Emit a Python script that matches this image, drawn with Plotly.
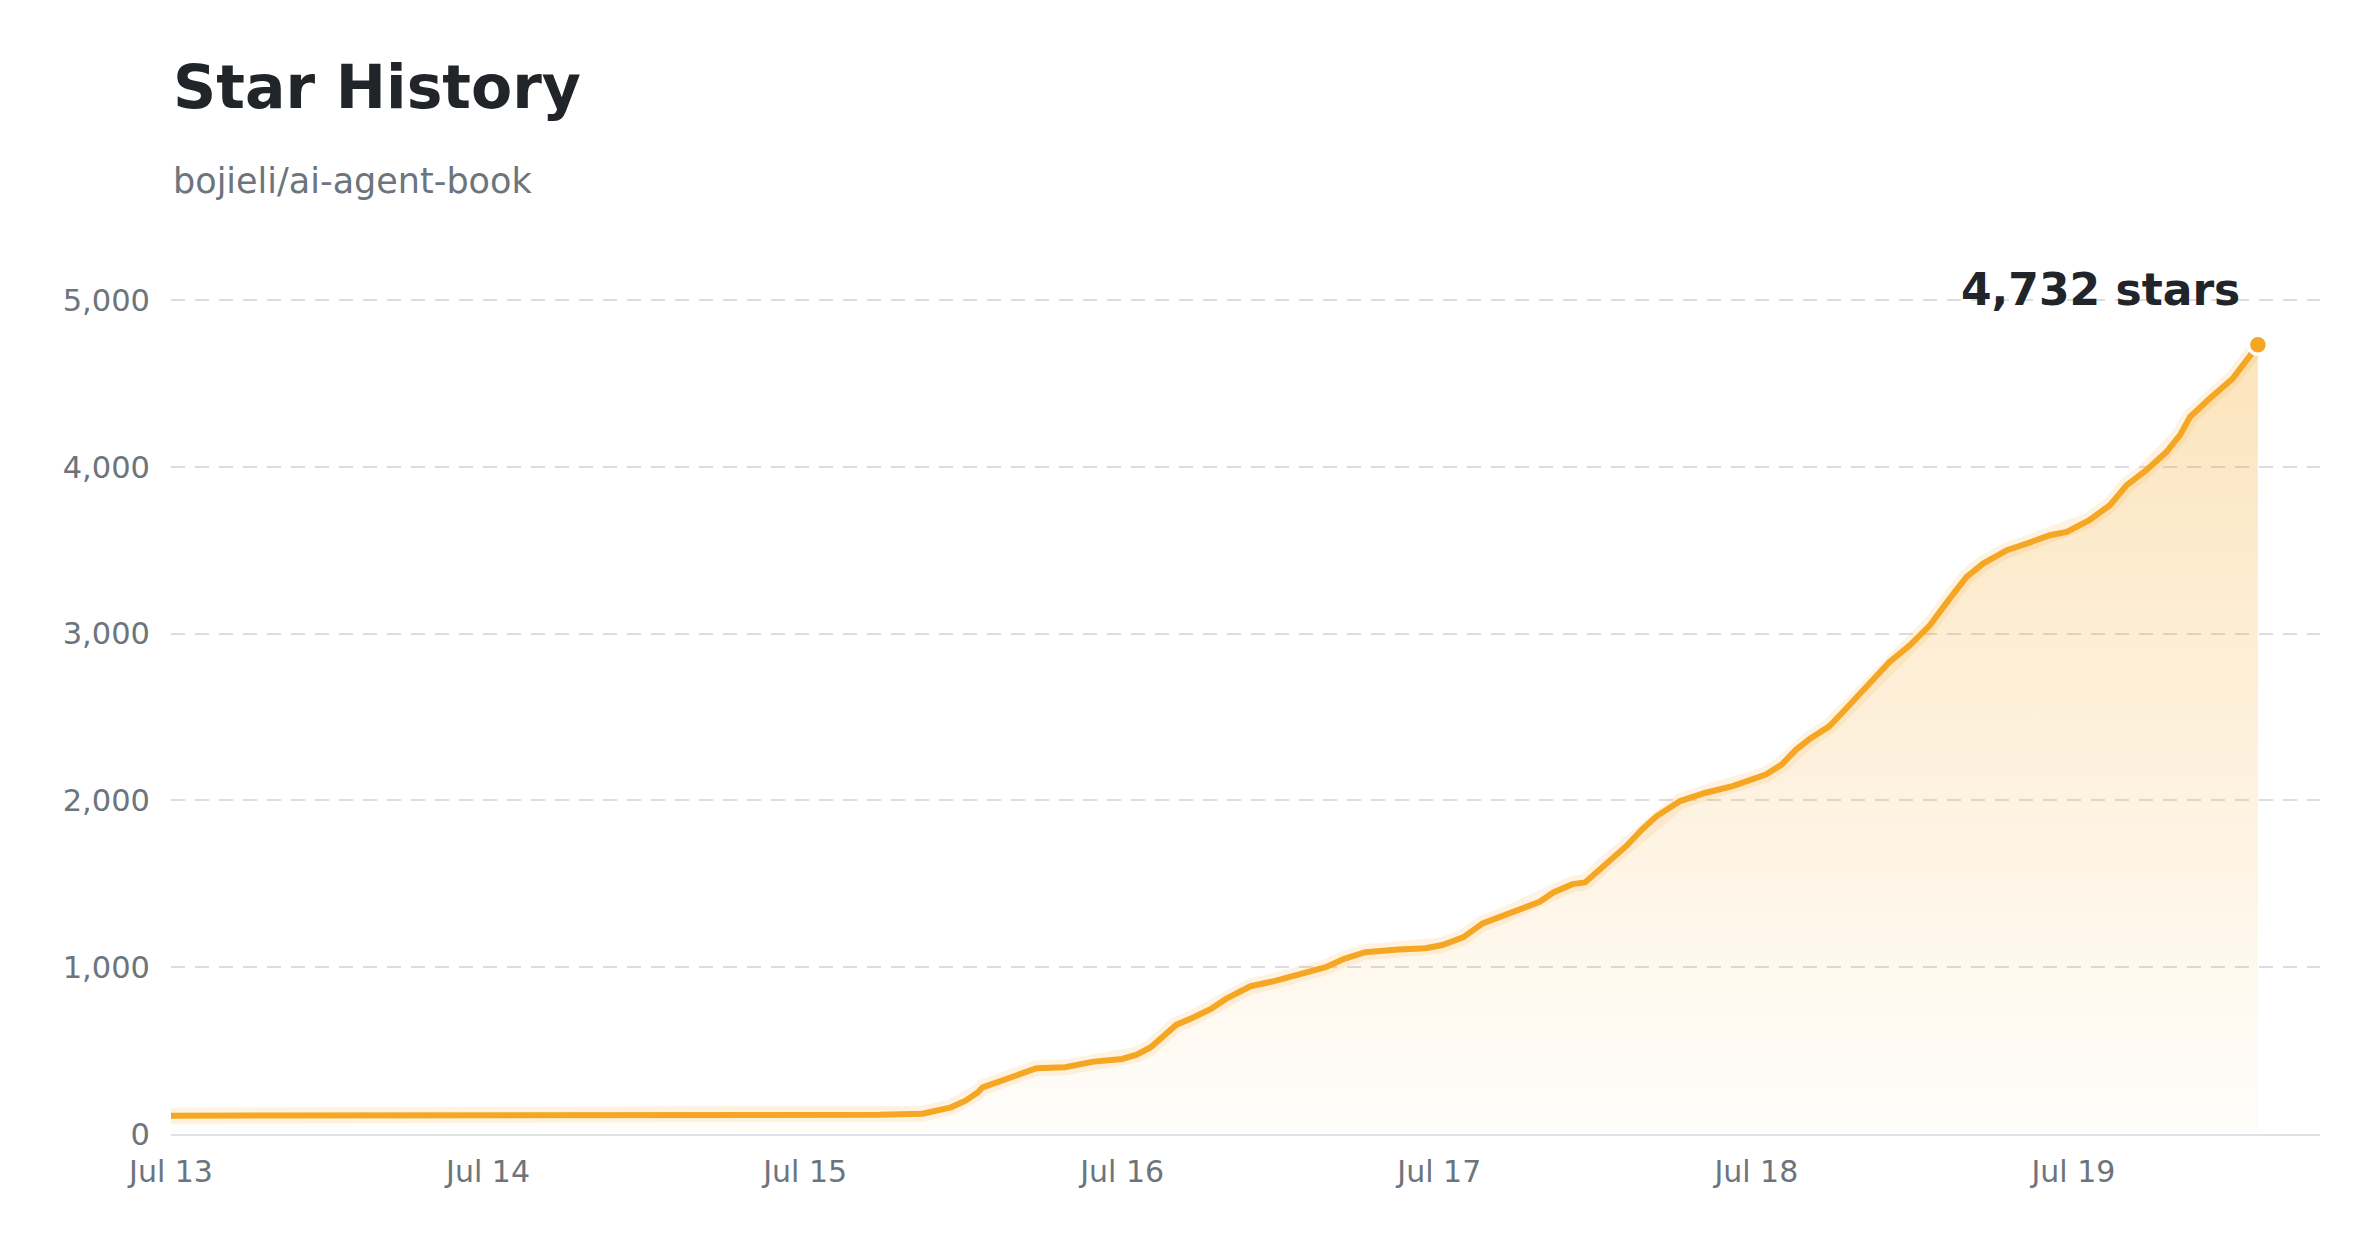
import plotly.graph_objects as go

# ---- data ----
dates = [
    "2025-07-13 00:00", "2025-07-13 12:00", "2025-07-14 00:00", "2025-07-14 12:00",
    "2025-07-15 00:00", "2025-07-15 05:38", "2025-07-15 08:53", "2025-07-15 11:02",
    "2025-07-15 12:09", "2025-07-15 13:05", "2025-07-15 13:26", "2025-07-15 14:48",
    "2025-07-15 16:28", "2025-07-15 17:31", "2025-07-15 19:41", "2025-07-15 21:50",
    "2025-07-16 00:00", "2025-07-16 01:06", "2025-07-16 02:10", "2025-07-16 03:17",
    "2025-07-16 04:05", "2025-07-16 05:25", "2025-07-16 06:43", "2025-07-16 07:51",
    "2025-07-16 09:43", "2025-07-16 11:22", "2025-07-16 12:43", "2025-07-16 14:05",
    "2025-07-16 15:24", "2025-07-16 16:48", "2025-07-16 18:24", "2025-07-16 20:53",
    "2025-07-16 22:58", "2025-07-17 00:14", "2025-07-17 01:48", "2025-07-17 03:17",
    "2025-07-17 04:34", "2025-07-17 05:53", "2025-07-17 07:36", "2025-07-17 08:38",
    "2025-07-17 10:05", "2025-07-17 11:02", "2025-07-17 12:43", "2025-07-17 14:10",
    "2025-07-17 15:22", "2025-07-17 16:28", "2025-07-17 18:14", "2025-07-17 20:10",
    "2025-07-17 22:12", "2025-07-17 23:46", "2025-07-18 00:43", "2025-07-18 01:55",
    "2025-07-18 03:01", "2025-07-18 04:02", "2025-07-18 05:31", "2025-07-18 06:29",
    "2025-07-18 07:34", "2025-07-18 08:38", "2025-07-18 10:05", "2025-07-18 11:37",
    "2025-07-18 13:08", "2025-07-18 14:38", "2025-07-18 15:55", "2025-07-18 17:10",
    "2025-07-18 18:58", "2025-07-18 20:41", "2025-07-18 22:13", "2025-07-18 23:30",
    "2025-07-19 01:12", "2025-07-19 02:46", "2025-07-19 04:02", "2025-07-19 05:31",
    "2025-07-19 07:03", "2025-07-19 08:04", "2025-07-19 08:50", "2025-07-19 10:19",
    "2025-07-19 12:04", "2025-07-19 13:22", "2025-07-19 13:58",
]
stars = [
    110, 110, 110, 110,
    111, 115, 122, 160,
    200, 250, 280, 320,
    370, 394, 400, 434,
    450, 476, 520, 600,
    654, 700, 750, 810,
    886, 914, 940, 974,
    1000, 1050, 1090, 1106,
    1114, 1133, 1179, 1263,
    1299, 1339, 1392, 1448,
    1498, 1508, 1631, 1727,
    1827, 1906, 1996, 2046,
    2086, 2125, 2155, 2215,
    2305, 2368, 2444, 2524,
    2614, 2713, 2830, 2930,
    3050, 3210, 3340, 3420,
    3500, 3546, 3590, 3610,
    3680, 3770, 3890, 3980,
    4090, 4190, 4300, 4410,
    4530, 4666, 4732,
]
title_text = "Star History"
subtitle_text = "bojieli/ai-agent-book"
x_range = ["2025-07-13 00:00", "2025-07-19 18:40"]
y_range = [0, 5300]
y_ticks = [0, 1000, 2000, 3000, 4000, 5000]
x_ticks = ["2025-07-13", "2025-07-14", "2025-07-15", "2025-07-16",
           "2025-07-17", "2025-07-18", "2025-07-19"]

ORANGE = "#F5A623"
FONT = "DejaVu Sans"

fig = go.Figure()

# gradient fill
fig.add_trace(go.Scatter(
    x=dates, y=stars, mode="lines", fill="tozeroy",
    line=dict(width=0, color="rgba(245,166,35,0)"),
    fillgradient=dict(type="vertical",
                      colorscale=[[0, "rgba(245,166,35,0.02)"],
                                  [1, "rgba(245,166,35,0.30)"]]),
    hoverinfo="skip", showlegend=False,
))
# halo
fig.add_trace(go.Scatter(
    x=dates, y=stars, mode="lines",
    line=dict(width=16, color="rgba(245,166,35,0.13)"),
    hoverinfo="skip", showlegend=False,
))
# main line
fig.add_trace(go.Scatter(
    x=dates, y=stars, mode="lines",
    line=dict(width=6, color=ORANGE),
    showlegend=False,
))
# end marker
fig.add_trace(go.Scatter(
    x=[dates[-1]], y=[stars[-1]], mode="markers",
    marker=dict(size=19, color=ORANGE, line=dict(width=3.5, color="white")),
    showlegend=False, cliponaxis=False,
))

fig.add_annotation(
    x=dates[-1], y=stars[-1], xref="x", yref="y",
    text=f"<b>{stars[-1]:,} stars</b>", showarrow=False,
    xanchor="right", yanchor="middle", xshift=-16, yshift=55,
    font=dict(family=FONT, size=44, color="#212529"),
)
fig.add_annotation(
    x=0, y=1.184, xref="paper", yref="paper", text=f"<b>{title_text}</b>",
    showarrow=False, xanchor="left", yanchor="middle",
    font=dict(family=FONT, size=60, color="#212529"),
)
fig.add_annotation(
    x=0, y=1.078, xref="paper", yref="paper", text=subtitle_text,
    showarrow=False, xanchor="left", yanchor="middle",
    font=dict(family=FONT, size=35, color="#6c757d"),
)

fig.update_layout(
    width=2380, height=1249,
    margin=dict(l=171, r=60, t=250, b=115),
    paper_bgcolor="white", plot_bgcolor="white",
    showlegend=False,
    font=dict(family=FONT, color="#6c757d"),
)
fig.update_xaxes(
    type="date", range=x_range,
    tickvals=x_ticks, tickformat="%b %d",
    showgrid=False, zeroline=False,
    showline=True, linecolor="#dee2e6", linewidth=2,
    ticks="", ticklabelstandoff=10,
    tickfont=dict(family=FONT, size=30, color="#6c757d"),
)
fig.update_yaxes(
    range=y_range, tickvals=y_ticks, tickformat=",",
    showgrid=True, gridcolor="#dadde2", gridwidth=2, griddash="14px,10px",
    zeroline=False, showline=False, ticks="", ticklabelstandoff=20,
    tickfont=dict(family=FONT, size=30.5, color="#6c757d"),
)

fig.write_html("out.html")
